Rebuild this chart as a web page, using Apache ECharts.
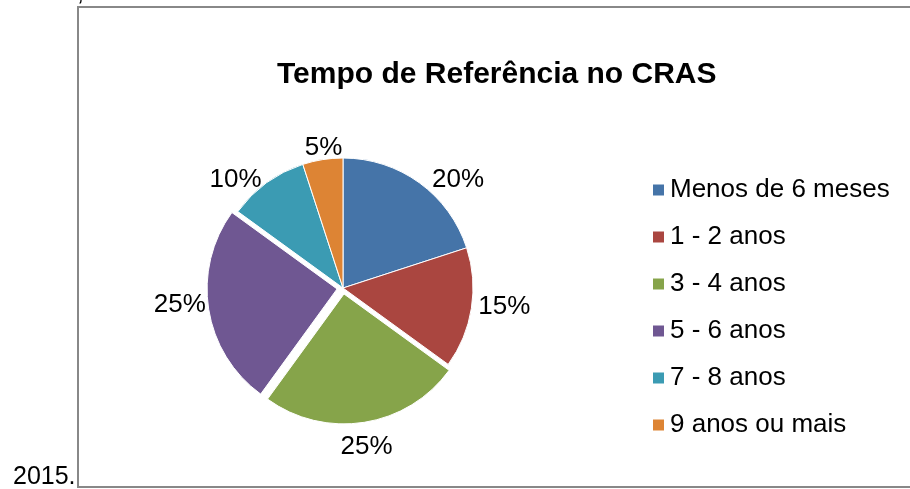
<!DOCTYPE html>
<html>
<head>
<meta charset="utf-8">
<title>Tempo de Referência no CRAS</title>
<script src="https://cdn.jsdelivr.net/npm/echarts@6/dist/echarts.min.js"></script>
<style>
  html, body { margin: 0; padding: 0; background: #fff; }
  #chart { width: 910px; height: 489px; }
</style>
</head>
<body>
<div id="chart"></div>
<script>
// Tempo de Referência no CRAS — pie chart

const CATEGORIES = ['Menos de 6 meses', '1 - 2 anos', '3 - 4 anos', '5 - 6 anos', '7 - 8 anos', '9 anos ou mais']
const VALUES = [20, 15, 25, 25, 10, 5]
const EXPLODED = [false, false, true, true, false, false]

const COLORS = ['#4574a8', '#aa4640', '#86a44a', '#6f5792', '#3b9bb3', '#dd8434']
const FONT = '"Liberation Sans", Arial, sans-serif'

// small nudges so the % labels sit where Excel put them
const LABEL_NUDGE = [[3, 3], [-6, -3], [-30, 17], [5, -6], [5, 0], [26, -4]]

const chart = echarts.init(document.getElementById('chart'))
chart.setOption({
  animation: false,
  color: COLORS,
  textStyle: { fontFamily: FONT },
  title: {
    text: 'Tempo de Referência no CRAS',
    left: 272,
    top: 55,
    textStyle: { fontFamily: FONT, fontSize: 30, fontWeight: 'bold', color: '#000' }
  },
  legend: {
    orient: 'vertical',
    left: 646,
    top: 172,
    icon: 'rect',
    itemWidth: 13,
    itemHeight: 13,
    itemGap: 21,
    selectedMode: false,
    textStyle: { fontFamily: FONT, fontSize: 26, color: '#000' },
    data: CATEGORIES
  },
  graphic: [
    // frame of the chart area
    {
      type: 'rect',
      shape: { x: 78, y: 7, width: 900, height: 480 },
      style: { fill: 'none', stroke: '#888', lineWidth: 2 },
      silent: true
    },
    // surrounding page text
    {
      type: 'text',
      x: 84,
      y: -7,
      style: { text: 'FAMÍLIA,', font: '25px ' + FONT, fill: '#000', align: 'right', verticalAlign: 'middle' }
    },
    {
      type: 'text',
      x: 13,
      y: 477,
      style: { text: '2015.', font: '25px ' + FONT, fill: '#000', align: 'left', verticalAlign: 'middle' }
    }
  ],
  series: [{
    type: 'pie',
    center: [343, 288],
    radius: 130,
    startAngle: 90,
    clockwise: true,
    selectedMode: 'multiple',
    selectedOffset: 6,
    itemStyle: { borderColor: '#fff', borderWidth: 1 },
    label: {
      show: true,
      position: 'outside',
      formatter: '{c}%',
      fontFamily: FONT,
      fontSize: 26,
      color: '#000'
    },
    labelLine: { show: false, length: 8, length2: 0 },
    labelLayout: p => {
      const n = LABEL_NUDGE[p.dataIndex] || [0, 0]
      return { dx: n[0], dy: n[1] }
    },
    emphasis: { disabled: true },
    data: CATEGORIES.map((name, i) => ({ name, value: VALUES[i], selected: EXPLODED[i] }))
  }]
})
</script>
</body>
</html>
